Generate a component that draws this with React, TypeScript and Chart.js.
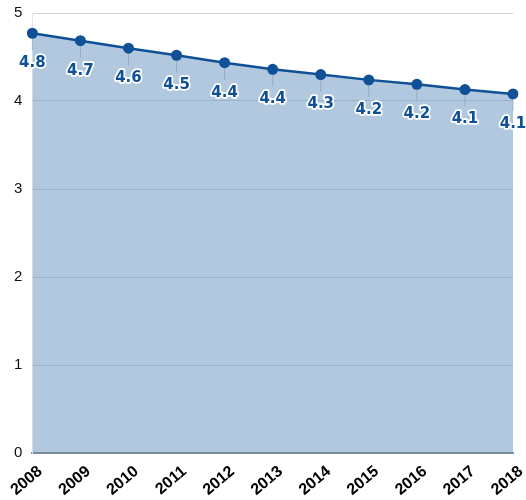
import React, { useEffect, useRef } from "react";
import { Chart, registerables } from "chart.js";

Chart.register(...registerables);

const years = ["2008", "2009", "2010", "2011", "2012", "2013", "2014", "2015", "2016", "2017", "2018"];
const values = [4.77, 4.685, 4.6, 4.52, 4.435, 4.36, 4.3, 4.24, 4.19, 4.13, 4.08];
const yTicks = [0, 1, 2, 3, 4, 5];

const LINE = "#0f5096";

const labelPlugin = {
  id: "pointLabels",
  afterDatasetsDraw(chart: any) {
    const ctx = chart.ctx;
    const meta = chart.getDatasetMeta(0);
    ctx.save();
    meta.data.forEach((pt: any, i: number) => {
      const x = pt.x;
      const y = pt.y;
      ctx.strokeStyle = "rgba(130,150,175,0.55)";
      ctx.lineWidth = 1;
      ctx.beginPath();
      ctx.moveTo(x, y + 6);
      ctx.lineTo(x, y + 17);
      ctx.stroke();
      const txt = values[i].toFixed(1);
      ctx.font = "bold 15px 'DejaVu Sans', Verdana, sans-serif";
      ctx.textAlign = "center";
      ctx.textBaseline = "middle";
      ctx.lineJoin = "round";
      ctx.strokeStyle = "#ffffff";
      ctx.lineWidth = 3.5;
      ctx.strokeText(txt, x, y + 30);
      ctx.fillStyle = LINE;
      ctx.fillText(txt, x, y + 30);
    });
    ctx.restore();
  },
};

export default function App() {
  const ref = useRef<HTMLCanvasElement | null>(null);
  useEffect(() => {
    document.body.style.margin = "0";
    const chart = new Chart(ref.current as HTMLCanvasElement, {
      type: "line",
      data: {
        labels: years,
        datasets: [
          {
            data: values,
            borderColor: LINE,
            backgroundColor: "rgba(100,145,190,0.5)",
            borderWidth: 2.5,
            fill: "origin",
            pointRadius: 5.5,
            pointBackgroundColor: LINE,
            pointBorderColor: LINE,
            pointBorderWidth: 0,
            tension: 0,
          },
        ],
      },
      options: {
        responsive: false,
        animation: false,
        layout: { padding: { top: 0, right: 0, left: 4, bottom: 0 } },
        plugins: { legend: { display: false }, tooltip: { enabled: false } },
        scales: {
          x: {
            offset: false,
            grid: { display: false, drawTicks: false },
            border: { display: true, color: "#7f8a96", width: 2 },
            afterFit: (axis: any) => {
              axis.paddingRight = 13;
              axis.paddingLeft = 0;
              axis.height = 47;
            },
            ticks: {
              minRotation: 40,
              maxRotation: 40,
              labelOffset: 8,
              color: "#000",
              padding: 9,
              font: { family: "'Liberation Sans', Arial, sans-serif", size: 16, weight: "bold" },
            },
          },
          y: {
            min: 0,
            max: 5,
            afterBuildTicks: (axis: any) => {
              axis.ticks = yTicks.map((v) => ({ value: v }));
            },
            afterFit: (axis: any) => {
              axis.paddingTop = 13;
            },
            grid: { color: "#cfd4da", drawTicks: false },
            border: { display: true, color: "#e3e8ee" },
            ticks: {
              color: "#111",
              padding: 10,
              font: { family: "'Liberation Sans', Arial, sans-serif", size: 15 },
            },
          },
        },
      },
      plugins: [labelPlugin],
    });
    return () => chart.destroy();
  }, []);
  return <canvas ref={ref} width={526} height={500} style={{ display: "block" }} />;
}
